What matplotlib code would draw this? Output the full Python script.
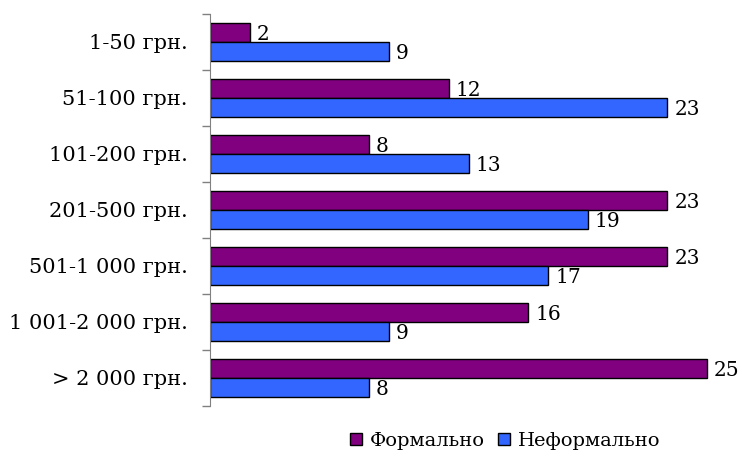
import numpy as np
import matplotlib.pyplot as plt
from matplotlib.ticker import FixedLocator

categories = ["1-50 грн.", "51-100 грн.", "101-200 грн.", "201-500 грн.",
              "501-1 000 грн.", "1 001-2 000 грн.", "> 2 000 грн."]
formal = [2, 12, 8, 23, 23, 16, 25]
informal = [9, 23, 13, 19, 17, 9, 8]
series_names = ["Формально", "Неформально"]
colors = ["#800080", "#3366FF"]

plt.rcParams['font.family'] = ['DejaVu Serif']

fig = plt.figure(figsize=(7.43, 4.57), dpi=100)
ax = fig.add_axes([0.2826, 0.1116, 0.7174, 0.8578])

y = np.arange(len(categories))
h = 0.34
b1 = ax.barh(y - h / 2, formal, height=h, color=colors[0], edgecolor='black',
             linewidth=1, label=series_names[0])
b2 = ax.barh(y + h / 2, informal, height=h, color=colors[1], edgecolor='black',
             linewidth=1, label=series_names[1])

# value labels to the right of each bar
for bars, vals in ((b1, formal), (b2, informal)):
    for bar, v in zip(bars, vals):
        ax.text(v + 0.35, bar.get_y() + bar.get_height() / 2 + 0.03, str(v),
                ha='left', va='center', fontsize=14.5)

ax.set_ylim(len(categories) - 0.5, -0.5)
ax.set_xlim(0, 26.8)
ax.set_yticks(y)
ax.set_yticklabels(categories, fontsize=15)
# tick marks sit between the categories
ax.yaxis.set_minor_locator(FixedLocator(np.arange(-0.5, len(categories), 1)))
ax.tick_params(axis='y', which='major', length=0, pad=16)
ax.tick_params(axis='y', which='minor', length=6, width=1, color='#808080')
ax.set_xticks([])
for s in ['top', 'right', 'bottom']:
    ax.spines[s].set_visible(False)
ax.spines['left'].set_color('#808080')

fig.legend(loc='center', bbox_to_anchor=(0.68, 0.035), ncol=2, frameon=False,
           fontsize=14, handlelength=0.6, handleheight=0.6, handletextpad=0.4,
           columnspacing=0.7)

fig.savefig("out.png", dpi=100)
